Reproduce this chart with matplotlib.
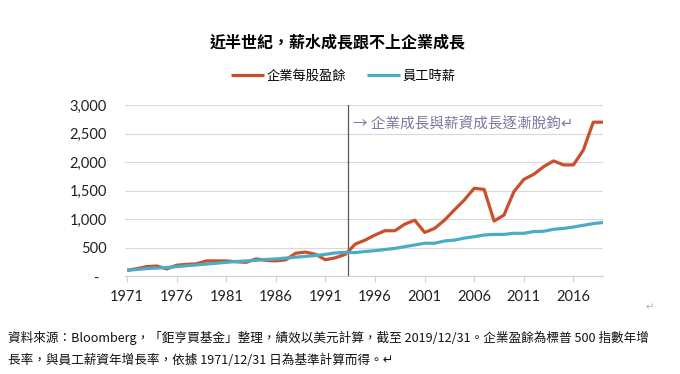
import matplotlib
matplotlib.use("Agg")
import matplotlib.pyplot as plt
from matplotlib.ticker import FuncFormatter, FixedLocator

years = list(range(1971, 2020))
eps = [100, 130, 165, 175, 125, 190, 205, 215, 265, 265, 265, 250, 240, 300, 275, 265,
       285, 400, 420, 380, 285, 320, 380, 560, 630, 720, 795, 795, 910, 980, 765, 835,
       980, 1160, 1335, 1540, 1520, 965, 1070, 1480, 1695, 1785, 1920, 2020, 1950, 1950,
       2210, 2700, 2700]
wage = [100, 115, 130, 140, 150, 165, 180, 195, 210, 225, 240, 255, 265, 275, 290, 300,
        315, 330, 345, 360, 380, 405, 415, 410, 430, 445, 465, 485, 515, 545, 575, 575,
        615, 630, 665, 690, 720, 730, 730, 750, 750, 780, 785, 820, 835, 860, 890, 920, 940]
tick_years = [1971, 1976, 1981, 1986, 1991, 1996, 2001, 2006, 2011, 2016]
y_ticks = [0, 500, 1000, 1500, 2000, 2500, 3000]
split_year = 1993.3

title = "近半世紀，薪水成長跟不上企業成長"
label_eps = "企業每股盈餘"
label_wage = "員工時薪"
annotation = "→ 企業成長與薪資成長逐漸脫鉤↵"
foot1 = "資料來源：Bloomberg，「鉅亨買基金」整理，績效以美元計算，截至 2019/12/31。企業盈餘為標普 500 指數年增"
foot2 = "長率，與員工薪資年增長率，依據 1971/12/31 日為基準計算而得。↵"

CJK = ["Noto Sans CJK TC", "DejaVu Sans"]
NUM = ["Lato", "DejaVu Sans"]

fig = plt.figure(figsize=(6.8, 3.74), dpi=100)
ax = fig.add_axes([0.184, 0.262, 0.703, 0.457])

c_eps = "#C9502B"
c_wage = "#4BACC6"
ax.plot(years, eps, color=c_eps, lw=2.3, label=label_eps, solid_capstyle="butt", zorder=3)
ax.plot(years, wage, color=c_wage, lw=2.3, label=label_wage, solid_capstyle="butt", zorder=3)

ax.set_xlim(1970.8, 2019.0)
ax.set_ylim(0, 3000)
ax.yaxis.set_major_locator(FixedLocator(y_ticks))
ax.yaxis.set_major_formatter(FuncFormatter(lambda v, p: "-  " if v == 0 else f"{int(v):,}"))
ax.set_xticks(tick_years)
ax.set_xticklabels([str(y) for y in tick_years])
ax.grid(axis="y", color="#d9d9d9", lw=0.8)
ax.set_axisbelow(True)
for s in ["top", "right", "left"]:
    ax.spines[s].set_visible(False)
ax.spines["bottom"].set_color("#d0d0d0")
ax.tick_params(axis="y", length=0, pad=13, labelsize=10.5)
ax.tick_params(axis="x", length=4, color="#d0d0d0", pad=6, labelsize=10.5)
for lab in ax.get_xticklabels() + ax.get_yticklabels():
    lab.set_family(NUM)
    lab.set_color("#222222")

ax.axvline(split_year, color="#595959", lw=0.9, zorder=2)
ax.text(split_year + 0.5, 2660, annotation, family=CJK, fontsize=10.5, color="#7b7aa0",
        ha="left", va="center")

fig.text(0.497, 0.887, title, family=CJK, fontsize=11.5, fontweight="bold", ha="center", va="center")
fig.legend(loc="center", bbox_to_anchor=(0.505, 0.797), ncol=2, frameon=False,
           prop={"family": CJK, "size": 9.5}, handlelength=2.5, columnspacing=1.6,
           handletextpad=0.2)

fig.text(0.955, 0.17, "↵", family=["DejaVu Sans"], fontsize=7, color="#aaaaaa", ha="center")
fig.text(0.012, 0.096, foot1, family=CJK, fontsize=9.1, ha="left", va="center", color="#111111")
fig.text(0.012, 0.037, foot2, family=CJK, fontsize=9.1, ha="left", va="center", color="#111111")

fig.savefig("out.png", dpi=100)
